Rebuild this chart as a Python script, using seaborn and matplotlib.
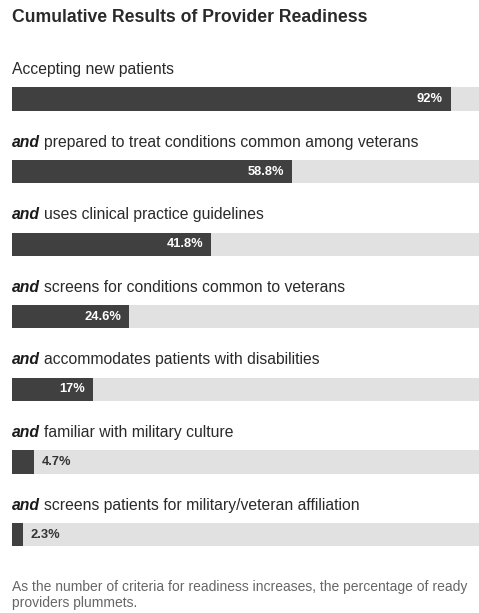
import matplotlib
matplotlib.use("Agg")
import matplotlib.pyplot as plt
import seaborn as sns
import pandas as pd

categories = [
    "Accepting new patients",
    "prepared to treat conditions common among veterans",
    "uses clinical practice guidelines",
    "screens for conditions common to veterans",
    "accommodates patients with disabilities",
    "familiar with military culture",
    "screens patients for military/veteran affiliation",
]
values = [92, 58.8, 41.8, 24.6, 17, 4.7, 2.3]
value_labels = ["92%", "58.8%", "41.8%", "24.6%", "17%", "4.7%", "2.3%"]
totals = [100] * len(categories)

sns.set_theme(style="white")
plt.rcParams["font.family"] = ["Liberation Sans", "DejaVu Sans"]

W, H = 479, 613
fig = plt.figure(figsize=(W / 100, H / 100), dpi=100)
left_px = 12
ax = fig.add_axes([left_px / W, 0, 1 - left_px / W, 1])

df = pd.DataFrame({"cat": categories, "val": values, "tot": totals})
bar_w = 0.32
sns.barplot(data=df, y="cat", x="tot", order=categories, color="#e1e1e1",
            saturation=1, width=bar_w, ax=ax, orient="h", linewidth=0)
sns.barplot(data=df, y="cat", x="val", order=categories, color="#404040",
            saturation=1, width=bar_w, ax=ax, orient="h", linewidth=0)

pitch = 72.6
top0 = 99
ax.set_ylim((H - top0) / pitch, -top0 / pitch)
ax.set_xlim(0, (W - left_px) / 477 * 100)
ax.set_axis_off()

renderer = fig.canvas.get_renderer()
fs = 11.3
base_off = 25 / pitch  # baseline of label above bar centre
for i, (cat, v, vl) in enumerate(zip(categories, values, value_labels)):
    y = i - base_off
    if i == 0:
        ax.text(0, y, cat, ha="left", va="baseline", fontsize=fs, color="#2a2a2a")
    else:
        t1 = ax.text(0, y, "and", ha="left", va="baseline", fontsize=fs,
                     color="#1a1a1a", fontweight="bold", fontstyle="italic")
        bb = t1.get_window_extent(renderer)
        x_end = ax.transData.inverted().transform((bb.x1 + 4, 0))[0]
        ax.text(x_end, y, cat, ha="left", va="baseline", fontsize=fs,
                color="#2a2a2a")
    if v > 10:
        ax.annotate(vl, xy=(v, i), xytext=(-6, 0), textcoords="offset points",
                    ha="right", va="center", fontsize=9.3, color="white",
                    fontweight="bold")
    else:
        ax.annotate(vl, xy=(v, i), xytext=(5.5, 0), textcoords="offset points",
                    ha="left", va="center", fontsize=9.3, color="#333333",
                    fontweight="bold")

fig.text(left_px / W, 1 - 17 / H, "Cumulative Results of Provider Readiness",
         ha="left", va="center", fontsize=12.7, fontweight="bold", color="#2a2a2a")
fig.text(left_px / W, 1 - 595 / H,
         "As the number of criteria for readiness increases, the percentage of ready\nproviders plummets.",
         ha="left", va="center", fontsize=10, color="#666666", linespacing=1.2)

fig.savefig("out.png", dpi=100, facecolor="white")
